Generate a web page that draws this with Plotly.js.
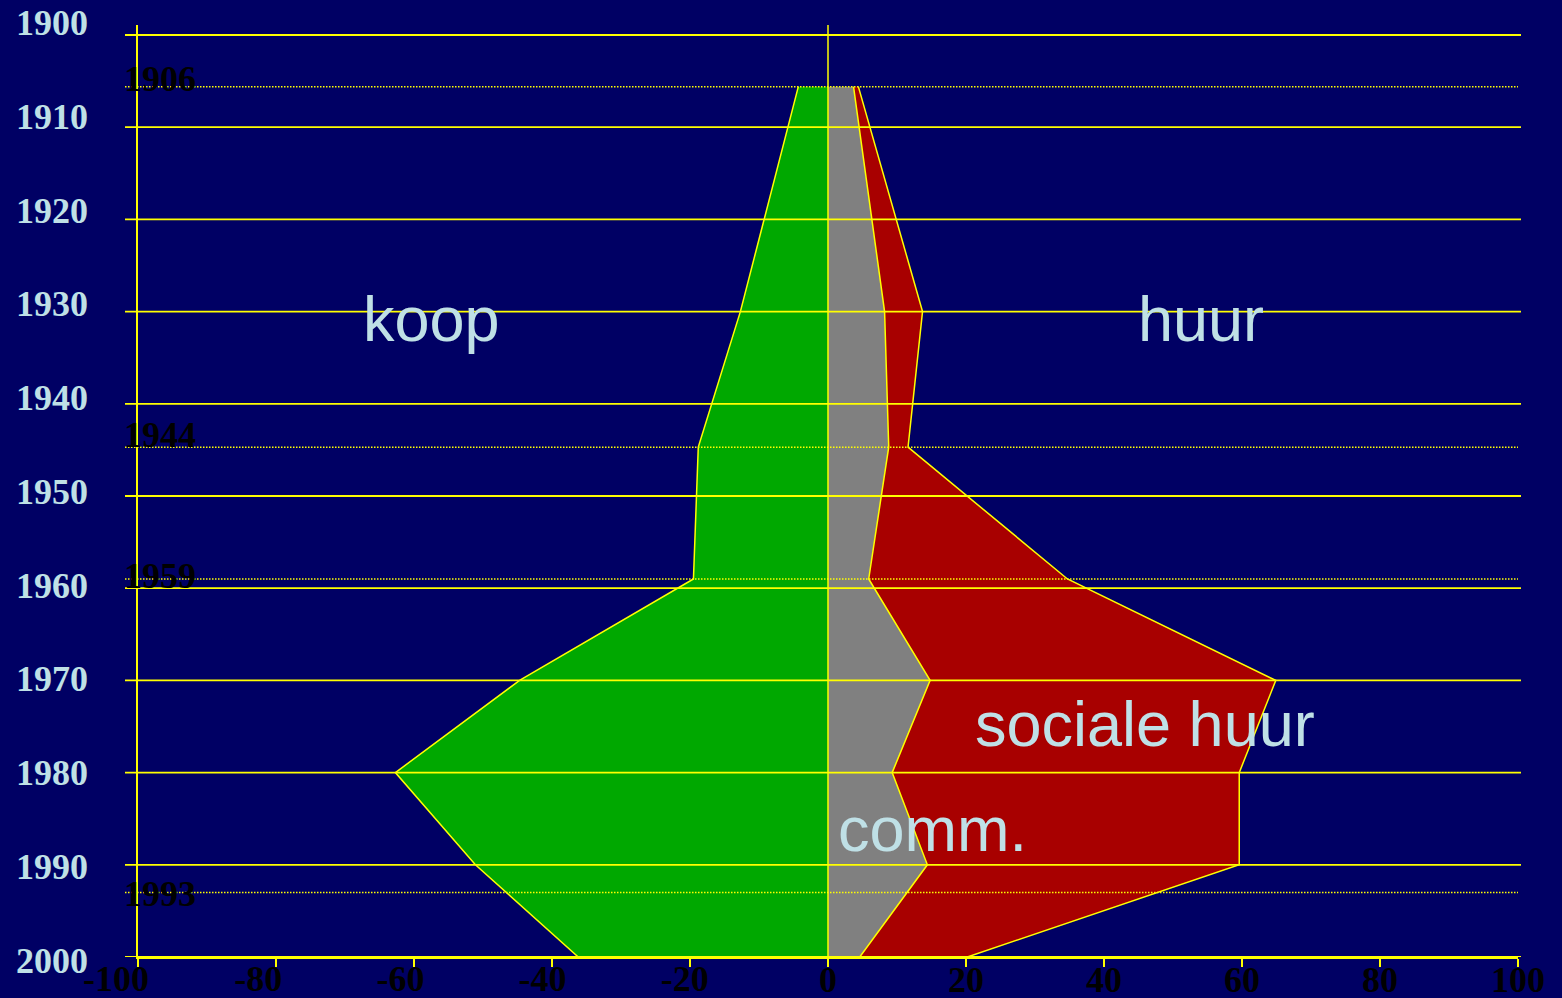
<!DOCTYPE html>
<html>
<head>
<meta charset="utf-8">
<script src="https://cdn.plot.ly/plotly-3.0.1.min.js"></script>
<style>
  html, body { margin: 0; padding: 0; background: #000064; }
  #chart { width: 1562px; height: 998px; }
</style>
</head>
<body>
<div id="chart"></div>
<script>
// ---- data ----
const profileYears = [1905.6, 1930, 1944.7, 1959, 1970, 1980, 1990, 2000];
const koop        = [-4.3, -12.7, -18.8, -19.5, -44.7, -62.7, -51.1, -36.2];
const comm        = [3.7, 8.2, 8.8, 5.9, 14.8, 9.3, 14.4, 4.6];
const socialeHuur = [0.7, 5.5, 2.8, 28.8, 50.1, 50.3, 45.2, 15.6];

const decadeYears = [1900, 1910, 1920, 1930, 1940, 1950, 1960, 1970, 1980, 1990, 2000];
const decadeLabels = decadeYears.map(String);
const eventYears = [1906, 1944, 1959, 1993];
const eventLabels = eventYears.map(String);
const eventLinePos = [1905.6, 1944.7, 1959, 1993];

const posTicks = [0, 20, 40, 60, 80, 100];
const posTickLabels = ['0', '20', '40', '60', '80', '100'];
const negTicks = [-100, -80, -60, -40, -20];
const negTickLabels = ['-100', '-80', '-60', '-40', '-20'];

const areaLabels = [
  {text: 'koop', x: -57.4, y: 1930.8},
  {text: 'huur', x: 54.0, y: 1930.8},
  {text: 'sociale huur', x: 46.0, y: 1974.75},
  {text: 'comm.', x: 15.1, y: 1986.1}
];

// ---- styles ----
const BG = '#000064';
const YEL = '#ffff00';
const LBLUE = '#bfe0e6';
const SERIF = 'Liberation Serif, Times New Roman, serif';
const SANS = 'Liberation Sans, Arial, sans-serif';

const socialeCum = comm.map((c, i) => c + socialeHuur[i]);

const traces = [
  {type: 'scatter', mode: 'lines', x: koop, y: profileYears, fill: 'tozerox',
   fillcolor: '#00a800', line: {color: YEL, width: 1.5}, hoverinfo: 'skip'},
  {type: 'scatter', mode: 'lines', x: comm, y: profileYears, fill: 'tozerox',
   fillcolor: '#808080', line: {color: YEL, width: 1.5}, hoverinfo: 'skip'},
  {type: 'scatter', mode: 'lines', x: socialeCum, y: profileYears, fill: 'tonextx',
   fillcolor: '#a80000', line: {color: YEL, width: 1.5}, hoverinfo: 'skip'},
  {type: 'scatter', mode: 'lines', x: [], y: [], xaxis: 'x2', yaxis: 'y2', hoverinfo: 'skip'}
];

// geometry (pixels)
const W = 1562, H = 998, ML = 60, MR = 44, MT = 10, MB = 30;
const PW = W - ML - MR, PH = H - MT - MB;
const px2fx = p => (p - ML) / PW;
const py2fy = p => (H - MB - p) / PH;

const plotLeft = 138, plotTop = 25, plotBottom = 957;

const shapes = [];
decadeYears.forEach(yv => shapes.push({
  type: 'line', layer: 'above', xref: 'paper', yref: 'y',
  x0: px2fx(125), x1: px2fx(1521), y0: yv, y1: yv,
  line: {color: YEL, width: 1.8}
}));
eventLinePos.forEach(yv => shapes.push({
  type: 'line', layer: 'above', xref: 'paper', yref: 'y',
  x0: px2fx(125), x1: px2fx(1518), y0: yv, y1: yv,
  line: {color: YEL, width: 1.5, dash: '1.5px,1.5px'}
}));
shapes.push({
  type: 'line', layer: 'above', xref: 'x', yref: 'y domain',
  x0: 0, x1: 0, y0: 0, y1: 1, line: {color: YEL, width: 1.5}
});

const annotations = [];
eventYears.forEach((yv, i) => annotations.push({
  xref: 'paper', yref: 'y2', x: px2fx(122), y: yv, xanchor: 'left', yanchor: 'middle',
  text: eventLabels[i], showarrow: false,
  font: {family: SERIF, size: 36, color: '#000000', weight: 'bold'}
}));
areaLabels.forEach(a => annotations.push({
  xref: 'x', yref: 'y', x: a.x, y: a.y, xanchor: 'center', yanchor: 'middle',
  text: a.text, showarrow: false,
  font: {family: SANS, size: 63, color: LBLUE}
}));

const tickFont = {family: SERIF, size: 36, color: '#000000', weight: 'bold'};

const layout = {
  width: W, height: H,
  margin: {l: ML, r: MR, t: MT, b: MB, pad: 0},
  paper_bgcolor: BG, plot_bgcolor: 'rgba(0,0,0,0)',
  showlegend: false, hovermode: false,
  font: {family: SANS},
  xaxis: {
    domain: [px2fx(plotLeft), 1], range: [-100, 100], anchor: 'y',
    tickmode: 'array', tickvals: negTicks.concat(posTicks),
    ticktext: negTicks.map(() => '').concat(posTickLabels),
    ticks: 'outside', ticklen: 8, tickwidth: 1.8, tickcolor: YEL,
    ticklabelstandoff: -18,
    showline: true, linecolor: YEL, linewidth: 1.8,
    showgrid: false, zeroline: false, tickfont: tickFont, layer: 'above traces',
    fixedrange: true
  },
  yaxis: {
    domain: [py2fy(plotBottom), py2fy(plotTop)],
    range: [2000, 1900 - 10 / 9.22], anchor: 'x',
    showticklabels: false, ticks: '',
    showline: true, linecolor: YEL, linewidth: 1.8,
    showgrid: false, zeroline: false, layer: 'above traces', fixedrange: true
  },
  xaxis2: {
    domain: [0, px2fx(827)], range: [(ML - 827) / 7.11, 0],
    anchor: 'free', position: py2fy(plotBottom),
    tickmode: 'array', tickvals: negTicks, ticktext: negTickLabels,
    ticks: 'outside', ticklen: 8, tickcolor: 'rgba(0,0,0,0)',
    ticklabelstandoff: -18,
    showline: false, showgrid: false, zeroline: false, tickfont: tickFont,
    fixedrange: true
  },
  yaxis2: {
    domain: [0, 1],
    range: [1900 + (H - MB - 22.5) / 9.375, 1900 + (MT - 22.5) / 9.375],
    anchor: 'free', position: px2fx(plotLeft),
    tickmode: 'array', tickvals: decadeYears, ticktext: decadeLabels,
    ticks: '', ticklabelstandoff: 50,
    showline: false, showgrid: false, zeroline: false,
    tickfont: {family: SERIF, size: 36, color: LBLUE, weight: 'bold'},
    fixedrange: true
  },
  shapes: shapes,
  annotations: annotations
};

Plotly.newPlot('chart', traces, layout, {staticPlot: true, displayModeBar: false});
</script>
</body>
</html>
